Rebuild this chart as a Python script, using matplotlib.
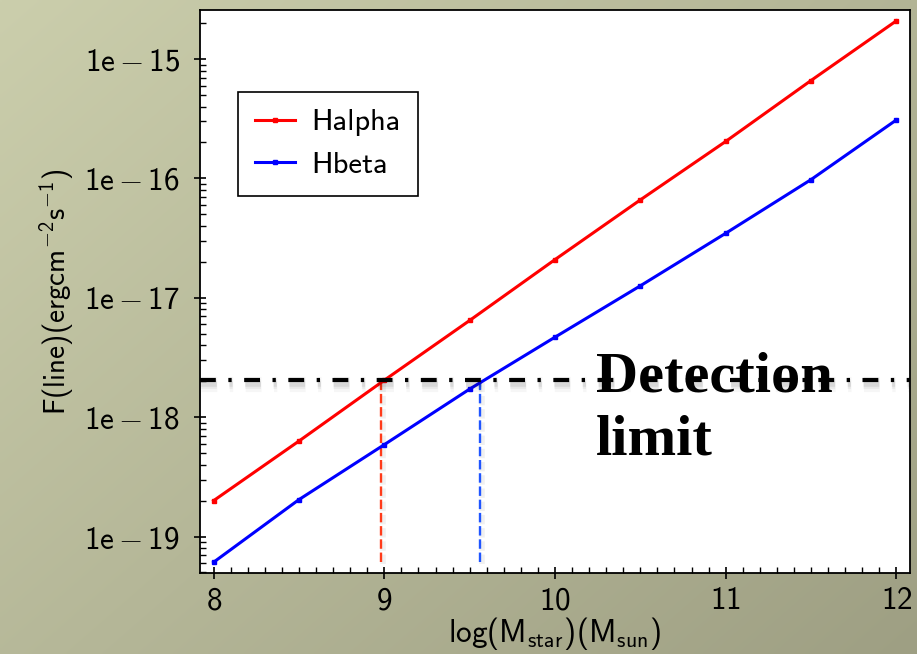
import numpy as np
import matplotlib
matplotlib.use("Agg")
import matplotlib.pyplot as plt
import matplotlib.patheffects as pe
from matplotlib.ticker import MultipleLocator, LogLocator, NullFormatter, FixedLocator, FixedFormatter

plt.rcParams['mathtext.fontset'] = 'custom'
plt.rcParams['mathtext.rm'] = 'cmss10'
plt.rcParams['mathtext.it'] = 'cmss10'
plt.rcParams['mathtext.bf'] = 'cmss10'
plt.rcParams['mathtext.sf'] = 'cmss10'

# ---- data ----
log_mstar = [8.0, 8.5, 9.0, 9.5, 10.0, 10.5, 11.0, 11.5, 12.0]
halpha = [2.00e-19, 6.31e-19, 2.04e-18, 6.46e-18, 2.09e-17, 6.61e-17, 2.04e-16, 6.61e-16, 2.09e-15]
hbeta = [6.10e-20, 2.04e-19, 5.89e-19, 1.72e-18, 4.68e-18, 1.26e-17, 3.47e-17, 9.77e-17, 3.09e-16]
detection_limit = 2.05e-18
halpha_cross = 8.98
hbeta_cross = 9.56
series_labels = ['Halpha', 'Hbeta']
ytick_values = [1e-19, 1e-18, 1e-17, 1e-16, 1e-15]
ytick_labels = [r'$\mathrm{1e-19}$', r'$\mathrm{1e-18}$', r'$\mathrm{1e-17}$',
                r'$\mathrm{1e-16}$', r'$\mathrm{1e-15}$']
xtick_values = [8, 9, 10, 11, 12]
xlabel = r'$\mathrm{log(M_{star})(M_{sun})}$'
ylabel = r'$\mathrm{F(line)(ergcm^{-2}s^{-1})}$'
annot_lines = ['Detection', 'limit']

W, H = 917, 654
fig = plt.figure(figsize=(W / 100, H / 100), dpi=100)

# background gradient
bg = fig.add_axes([0, 0, 1, 1], zorder=-10)
c0 = np.array([203, 206, 172]) / 255.0
c1 = np.array([158, 159, 131]) / 255.0
yy, xx = np.mgrid[0:1:200j, 0:1:280j]
t = (xx * 0.55 + yy * 0.45)
img = c0[None, None, :] * (1 - t[..., None]) + c1[None, None, :] * t[..., None]
bg.imshow(img, aspect='auto', extent=[0, 1, 0, 1], origin='upper', interpolation='bilinear')
bg.set_axis_off()

ax = fig.add_axes([200 / W, 1 - 573 / H, 710 / W, 563 / H])
ax.set_facecolor('white')
ax.set_yscale('log')

ax.plot(log_mstar, halpha, color='#ff0000', lw=2.2, marker='s', ms=3, label=series_labels[0], zorder=4)
ax.plot(log_mstar, hbeta, color='#0000ff', lw=2.2, marker='s', ms=3, label=series_labels[1], zorder=4)
ax.margins(0.02)
ax.set_xlim(ax.get_xlim())
ax.set_ylim(ax.get_ylim())

shadow = [pe.SimpleLineShadow(offset=(0.5, -3), alpha=0.035, linewidth=11),
          pe.SimpleLineShadow(offset=(0.5, -3), alpha=0.05, linewidth=7),
          pe.SimpleLineShadow(offset=(0.5, -3), alpha=0.07, linewidth=4),
          pe.Normal()]
vshadow = [pe.SimpleLineShadow(offset=(1.5, -1.5), alpha=0.06, linewidth=4), pe.Normal()]

ax.plot([halpha_cross, halpha_cross], [hbeta[0], detection_limit], color='#ff3b1a', lw=1.7,
        dashes=(4, 1.6), zorder=3, path_effects=vshadow)
ax.plot([hbeta_cross, hbeta_cross], [hbeta[0], detection_limit], color='#1f55ff', lw=1.7,
        dashes=(4, 1.6), zorder=3, path_effects=vshadow)
ax.axhline(detection_limit, color='black', lw=3, dashes=(3.8, 3.0, 0.8, 3.0), zorder=5,
           path_effects=shadow)

ax.text(0.558, 0.3215, annot_lines[0], transform=ax.transAxes, ha='left', va='baseline',
        fontsize=42, fontweight='bold', family='Liberation Serif', zorder=6)
ax.text(0.558, 0.2096, annot_lines[1], transform=ax.transAxes, ha='left', va='baseline',
        fontsize=42, fontweight='bold', family='Liberation Serif', zorder=6)

ax.yaxis.set_major_locator(FixedLocator(ytick_values))
ax.yaxis.set_major_formatter(FixedFormatter(ytick_labels))
ax.yaxis.set_minor_locator(LogLocator(base=10, subs=np.arange(2, 10)))
ax.yaxis.set_minor_formatter(NullFormatter())
ax.xaxis.set_major_locator(FixedLocator(xtick_values))
ax.set_xticklabels([r'$\mathrm{%d}$' % v for v in xtick_values])
ax.xaxis.set_minor_locator(MultipleLocator(0.1))

ax.tick_params(which='major', direction='inout', length=9, width=1.2, labelsize=22.5,
               top=False, right=False)
ax.tick_params(which='minor', direction='in', length=4.5, width=1.0, top=False, right=False)
ax.tick_params(axis='y', which='major', pad=10)
ax.tick_params(axis='x', which='major', pad=5)
for s in ax.spines.values():
    s.set_linewidth(1.3)

ax.set_xlabel(xlabel, fontsize=22.5, labelpad=0)
ax.set_ylabel(ylabel, fontsize=21, labelpad=6)

leg = ax.legend(loc='upper left', bbox_to_anchor=(38 / 710, 1 - 82 / 563), borderaxespad=0,
                fancybox=False, edgecolor='black', framealpha=1, numpoints=1,
                handlelength=1.3, labelspacing=0.5, borderpad=0.55, handletextpad=0.55,
                prop={'family': 'cmss10', 'size': 22})
leg.get_frame().set_linewidth(1.2)

fig.savefig('out.png', dpi=100)
